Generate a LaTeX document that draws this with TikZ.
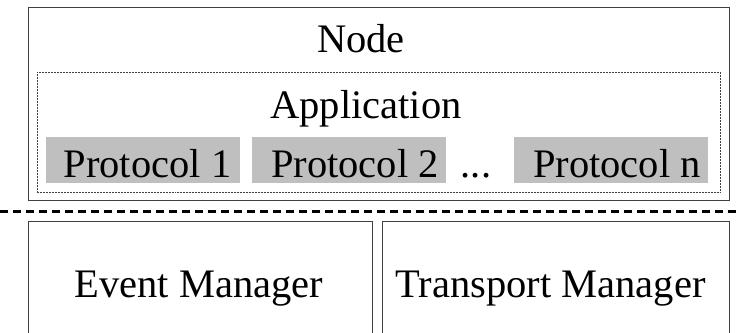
\documentclass[tikz,border=0pt]{standalone}
\usepackage{fontspec}
\setmainfont{Liberation Serif}
\begin{document}
\begin{tikzpicture}[x=1pt,y=-1pt,
  frame/.style={draw=black!75, line width=1pt},
  appframe/.style={draw=black!75, line width=0.9pt, dash pattern=on 0.6pt off 0.9pt},
  protobox/.style={fill=black!25, inner sep=0pt, text height=40pt, text depth=6pt, anchor=base, minimum width=194pt},
  label/.style={inner sep=0pt, anchor=base, font=\fontsize{40.5}{48}\selectfont},
  sep/.style={draw=black, line width=3pt, dash pattern=on 8pt off 5pt}]
\useasboundingbox (0,0) rectangle (741,332);
\clip (0,0) rectangle (741,332);
% node container
\draw[frame] (28,7) rectangle (729,200);
\node[label] (nodetxt) at (361,52) {Node};
% application layer
\draw[appframe] (37,72) rectangle (720,192);
\node[label] (apptxt) at (366,118) {Application};
% protocols
\node[protobox, label] (p1) at (142.5,177) {\hspace*{10pt}Protocol 1};
\node[protobox, label] (p2) at (348.5,177) {\hspace*{13pt}Protocol 2};
\node[label] (dots) at (476,177) {...};
\node[protobox, label] (pn) at (610.5,177) {\hspace*{13pt}Protocol n};
% separator
\draw[sep] (0,211.5) -- (741,211.5);
% managers
\draw[frame] (28,221) rectangle (372.5,345);
\draw[frame] (382.5,221) rectangle (729,345);
\node[label] (evt) at (199,297) {Event Manager};
\node[label] (trn) at (550.5,297) {Transport Manager};
\end{tikzpicture}
\end{document}
